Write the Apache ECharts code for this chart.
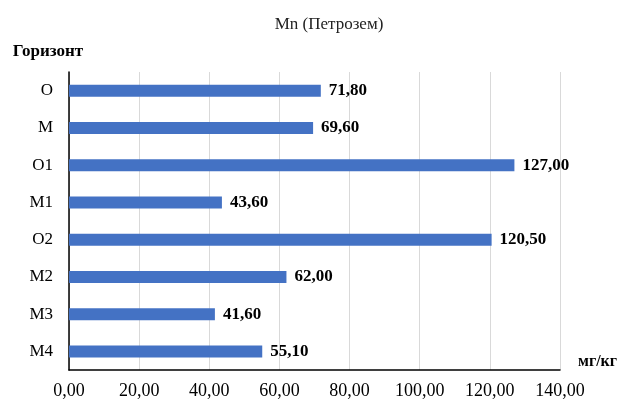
<!DOCTYPE html>
<html>
<head>
<meta charset="utf-8">
<script src="https://cdn.jsdelivr.net/npm/echarts@6/dist/echarts.min.js"></script>
<style>
  html, body { margin: 0; padding: 0; background: #fff; }
  #chart { width: 620px; height: 400px; }
</style>
</head>
<body>
<div id="chart"></div>
<script>
// Horizons, listed top to bottom
const horizons = ['O', 'M', 'O1', 'M1', 'O2', 'M2', 'M3', 'M4'];
// Mn content, mg/kg
const mnValues = [71.80, 69.60, 127.00, 43.60, 120.50, 62.00, 41.60, 55.10];

const serif = '"Liberation Serif", "DejaVu Serif", serif';
const fmt = v => Number(v).toFixed(2).replace('.', ',');

const chart = echarts.init(document.getElementById('chart'));
chart.setOption({
  animation: false,
  title: {
    text: 'Mn (Петрозем)',
    left: 324,
    textAlign: 'center',
    top: 11,
    textStyle: { fontFamily: serif, fontSize: 17, fontWeight: 'normal', color: '#222' }
  },
  grid: { left: 69, right: 60, top: 72, bottom: 30, containLabel: false, outerBoundsMode: 'none' },
  xAxis: {
    type: 'value',
    min: 0,
    max: 140,
    interval: 20,
    name: 'мг/кг',
    nameLocation: 'end',
    nameGap: 18,
    nameTextStyle: {
      fontFamily: serif, fontSize: 16, fontWeight: 'bold', color: '#000',
      verticalAlign: 'bottom', padding: [0, 0, 0, 0]
    },
    axisLine: { show: true, lineStyle: { color: '#000', width: 1.5 } },
    axisTick: { show: false },
    axisLabel: {
      fontFamily: serif, fontSize: 18, color: '#000', margin: 12,
      formatter: fmt
    },
    splitLine: { show: true, lineStyle: { color: '#d9d9d9', width: 1 } }
  },
  yAxis: {
    type: 'category',
    data: horizons,
    inverse: true,
    name: 'Горизонт',
    nameLocation: 'start',
    nameGap: 20,
    nameTextStyle: {
      fontFamily: serif, fontSize: 17, fontWeight: 'bold', color: '#000',
      align: 'center', verticalAlign: 'middle', padding: [0, 42, 0, 0]
    },
    axisLine: { show: true, lineStyle: { color: '#000', width: 1.5 } },
    axisTick: { show: false },
    axisLabel: { fontFamily: serif, fontSize: 17, color: '#000', margin: 16 }
  },
  series: [{
    type: 'bar',
    data: mnValues,
    barWidth: 12,
    itemStyle: { color: '#4472C4' },
    label: {
      show: true,
      position: 'right',
      distance: 8,
      fontFamily: serif,
      fontSize: 17,
      fontWeight: 'bold',
      color: '#000',
      formatter: p => fmt(p.value)
    }
  }]
});
</script>
</body>
</html>
